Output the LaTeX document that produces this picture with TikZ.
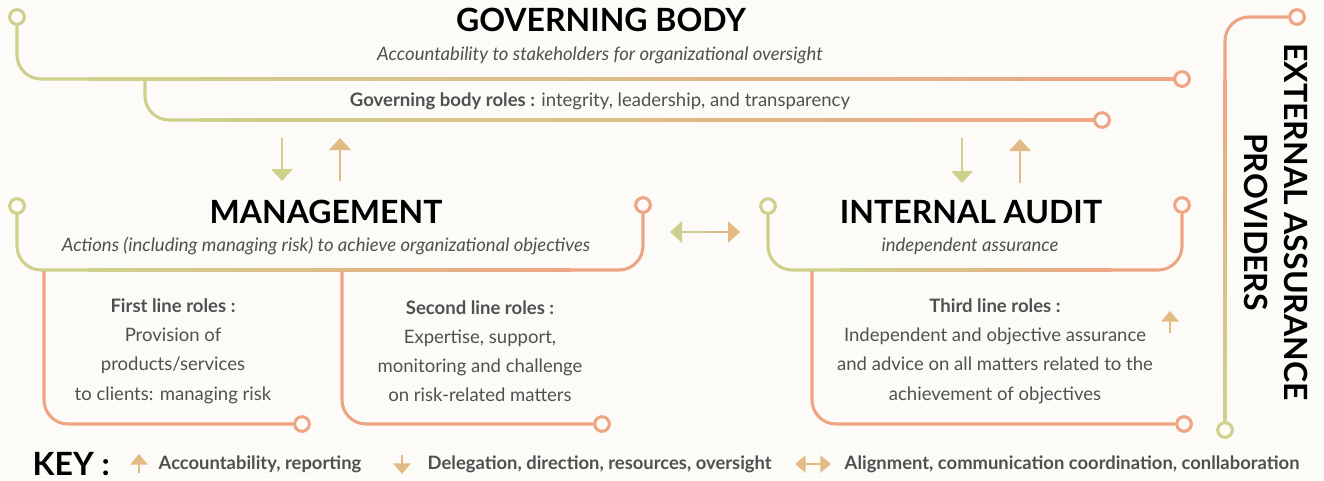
\documentclass[tikz,border=0pt]{standalone}
\usepackage{fontspec}
\setmainfont{Lato}
\usetikzlibrary{arrows.meta}
\definecolor{lgreen}{RGB}{206,209,140}
\definecolor{lorange}{RGB}{238,165,132}
\definecolor{ltan}{RGB}{226,186,132}
\definecolor{dgray}{RGB}{80,80,80}
\definecolor{paper}{RGB}{252,251,247}
\begin{document}
\begin{tikzpicture}[x=0.75pt, y=-0.75pt]
                    \tikzstyle{gline}=[draw=lgreen, line width=2.3pt, rounded corners=18pt]
                    \tikzstyle{oline}=[draw=lorange, line width=2.3pt, rounded corners=18pt]
                    \tikzstyle{gring}=[circle, draw=lgreen, line width=2.3pt, fill=paper, minimum size=11pt, inner sep=0pt]
                    \tikzstyle{oring}=[gring, draw=lorange]
                    \tikzstyle{head}=[font=\fontsize{24}{30}\selectfont\bfseries, text=black, align=center]
                    \tikzstyle{sub}=[font=\fontsize{13.9}{16}\selectfont\itshape, text=dgray]
                    \tikzstyle{body}=[font=\fontsize{13.9}{21.9}\selectfont, text=dgray, align=center]
                    \tikzstyle{keytext}=[font=\fontsize{13.8}{16}\selectfont\bfseries, text=dgray, anchor=west]
                    \tikzstyle{down}=[-{Triangle[width=16pt, length=9pt]}, line width=1.5pt, draw=lgreen]
                    \tikzstyle{up}=[-{Triangle[width=16pt, length=9pt]}, line width=1.5pt, draw=ltan]
                    \tikzstyle{keyup}=[-{Triangle[width=13pt, length=8pt]}, line width=1.5pt, draw=ltan]
                    \fill[paper] (0,0) rectangle (1324,479);
                    \node[gring] (gb1) at (17,17) {};
                    \node[oring] (gb2) at (1182,79) {};
                    \node[oring] (gb3) at (1102,120) {};
                    \draw[gline] (gb1.south) |- (90,79);
                    \shade[left color=lgreen, right color=lorange] (89,77.5) rectangle (1175,80.5);
                    \draw[gline] (145,79) |- (200,120);
                    \shade[left color=lgreen, right color=lorange] (199,118.5) rectangle (1095,121.5);
                    \node[head] (gbt) at (601,20) {GOVERNING BODY};
                    \node[sub] (gbs) at (600,55) {Accountability to stakeholders for organizational oversight};
                    \node[body] (gbr) at (600,101) {\textbf{Governing body roles :} integrity, leadership, and transparency};
                    \coordinate (md1) at (282,138);
                    \coordinate (md2) at (282,181);
                    \coordinate (mu1) at (340,181);
                    \coordinate (mu2) at (340,138);
                    \draw[down] (md1) -- (md2);
                    \draw[up] (mu1) -- (mu2);
                    \coordinate (ad1) at (962,138);
                    \coordinate (ad2) at (962,183);
                    \coordinate (au1) at (1020,183);
                    \coordinate (au2) at (1020,139);
                    \draw[down] (ad1) -- (ad2);
                    \draw[up] (au1) -- (au2);
                    \node[gring] (m1) at (17,206) {};
                    \node[oring] (m2) at (643,205) {};
                    \draw[gline] (m1.south) |- (90,270);
                    \shade[left color=lgreen, right color=lorange] (89,268.5) rectangle (571,271.5);
                    \draw[oline] (570,270) -| (m2.south);
                    \node[head] (mt) at (326,212) {MANAGEMENT};
                    \node[sub] (ms) at (326,246) {Actions (including managing risk) to achieve organizational objectives};
                    \node[oring] (f1) at (302,424) {};
                    \node[oring] (f2) at (602,424) {};
                    \draw[oline] (44,271) |- (f1.west);
                    \draw[oline] (342,271) |- (f2.west);
                    \node[body] (r1) at (173,351) {\textbf{First line roles :}\\Provision of\\products/services\\to clients: managing risk};
                    \node[body] (r2) at (480,351) {\textbf{Second line roles :}\\Expertise, support,\\monitoring and challenge\\on risk-related matters};
                    \coordinate (lm) at (705,232);
                    \coordinate (ll) at (670,232);
                    \coordinate (lr) at (740,232);
                    \draw[down] (lm) -- (ll);
                    \draw[up] (lm) -- (lr);
                    \node[gring] (a1) at (768,206) {};
                    \node[oring] (a2) at (1182,205) {};
                    \draw[gline] (a1.south) |- (840,270);
                    \shade[left color=lgreen, right color=lorange] (839,268.5) rectangle (1111,271.5);
                    \draw[oline] (1110,270) -| (a2.south);
                    \node[head] (at) at (971,212) {INTERNAL AUDIT};
                    \node[sub] (as) at (970,246) {independent assurance};
                    \node[oring] (t1) at (1184,424) {};
                    \draw[oline] (812,271) |- (t1.west);
                    \node[body] (r3) at (995,351) {\textbf{Third line roles :}\\Independent and objective assurance\\and advice on all matters related to the\\achievement of objectives};
                    \coordinate (tu1) at (1170,333);
                    \coordinate (tu2) at (1170,311);
                    \draw[keyup] (tu1) -- (tu2);
                    \node[oring] (e1) at (1297,17) {};
                    \node[gring] (e2) at (1225,430) {};
                    \draw[oline] (e1.west) -| (1225,80);
                    \shade[top color=lorange, bottom color=lgreen] (1223.5,79) rectangle (1226.5,401);
                    \draw[gline] (1225,400) -- (e2.north);
                    \node[head, rotate=-90] (ext) at (1276,222) {EXTERNAL ASSURANCE\\PROVIDERS};
                    \node[head, anchor=west] (key) at (28,464) {KEY :};
                    \coordinate (k1a) at (139,473);
                    \coordinate (k1b) at (139,454);
                    \draw[keyup] (k1a) -- (k1b);
                    \node[keytext] (k1) at (154,464) {Accountability, reporting};
                    \coordinate (k2a) at (402,455);
                    \coordinate (k2b) at (402,474);
                    \draw[keyup] (k2a) -- (k2b);
                    \node[keytext] (k2) at (423,464) {Delegation, direction, resources, oversight};
                    \coordinate (k3m) at (813,464);
                    \coordinate (k3l) at (795,464);
                    \coordinate (k3r) at (831,464);
                    \draw[keyup] (k3m) -- (k3l);
                    \draw[keyup] (k3m) -- (k3r);
                    \node[keytext] (k3) at (840,464) {Alignment, communication coordination, conllaboration};
\end{tikzpicture}
\end{document}
